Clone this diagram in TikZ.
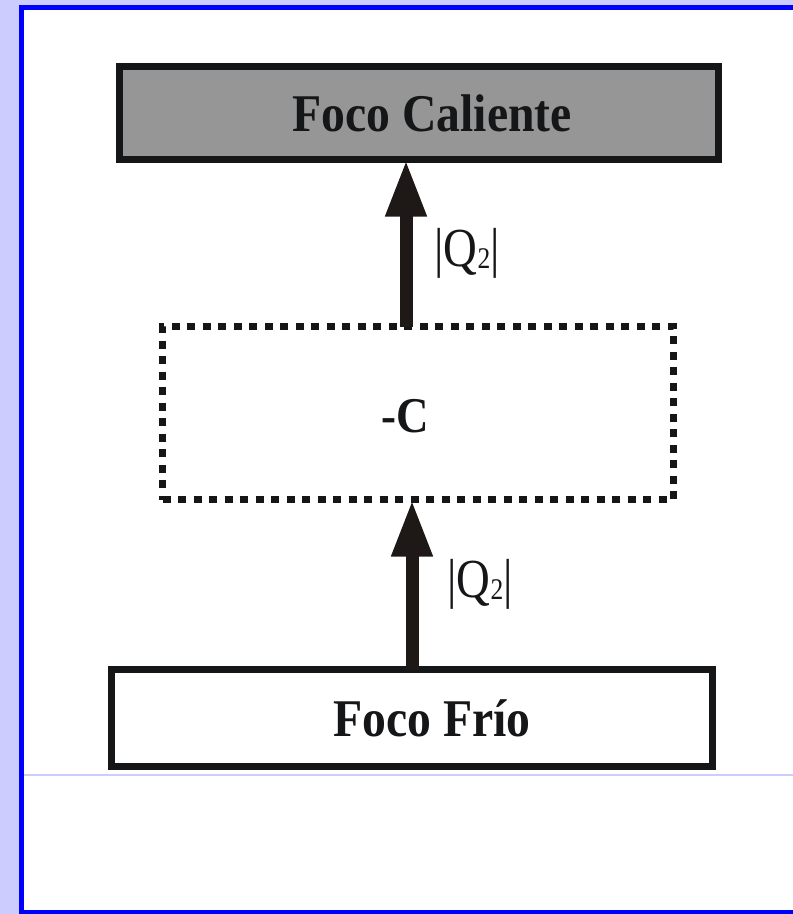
\documentclass[tikz,border=0pt]{standalone}
\usepackage{fontspec}
\setmainfont{Liberation Serif}
\usetikzlibrary{arrows.meta}
\definecolor{lav}{HTML}{CCCCFF}
\definecolor{pblue}{HTML}{0000FF}
\definecolor{boxline}{HTML}{151617}
\definecolor{arrowc}{HTML}{1E1917}
\definecolor{hotgrey}{HTML}{969696}
\newcommand{\qtwo}{\scalebox{0.85}[1]{|Q\raisebox{-2pt}{\fontsize{30}{30}\selectfont 2}|}}
\tikzset{
  boxstyle/.style={draw=boxline, line width=7pt, rectangle, inner sep=0pt, outer sep=0pt},
  hotbox/.style={boxstyle, fill=hotgrey, minimum width=599pt, minimum height=93pt},
  coldbox/.style={boxstyle, fill=white, minimum width=601pt, minimum height=97pt},
  enginebox/.style={draw=boxline, line width=7.5pt, dash pattern=on 8pt off 7.5pt, rectangle, inner sep=0pt, outer sep=0pt, minimum width=511pt, minimum height=173pt},
  boxtext/.style={inner sep=0pt, font=\fontsize{53}{56}\selectfont\bfseries, text=boxline},
  qlabel/.style={inner sep=0pt, font=\fontsize{55}{58}\selectfont, text=boxline},
  flow/.style={draw=arrowc, line width=13pt, -{Triangle[width=38pt,length=57pt]}}
}
\begin{document}
\begin{tikzpicture}[x=1pt,y=-1pt]
\useasboundingbox (0,0) rectangle (793,914);
% frame
\fill[lav] (0,0) rectangle (793,914);
\fill[white] (19,5) rectangle (793,914);
\fill[pblue] (19,5) rectangle (793,10);
\fill[pblue] (19,5) rectangle (24,914);
\fill[pblue] (19,910) rectangle (793,914);
\draw[lav, line width=1.2pt] (24,775) -- (793,775);
% boxes
\node[hotbox] (hot) at (418.5,113) {};
\node[boxtext] (hottxt) at (432,113) {\scalebox{0.9}[1]{Foco Caliente}};
\node[enginebox] (eng) at (418,413) {};
\node[boxtext, font=\fontsize{50}{54}\selectfont\bfseries] (engtxt) at (405,416) {\scalebox{0.9}[1]{-C}};
\node[coldbox] (cold) at (412,718) {};
\node[boxtext] (coldtxt) at (432,718) {\scalebox{0.9}[1]{Foco Frío}};
% arrows
\draw[flow] (eng.north -| 406,0) -- (hot.south -| 406,0);
\draw[flow] (cold.north -| 412,0) -- (eng.south -| 412,0);
% labels
\node[qlabel] (q1) at (467,253) {\qtwo};
\node[qlabel] (q2) at (480,584) {\qtwo};
\end{tikzpicture}
\end{document}
